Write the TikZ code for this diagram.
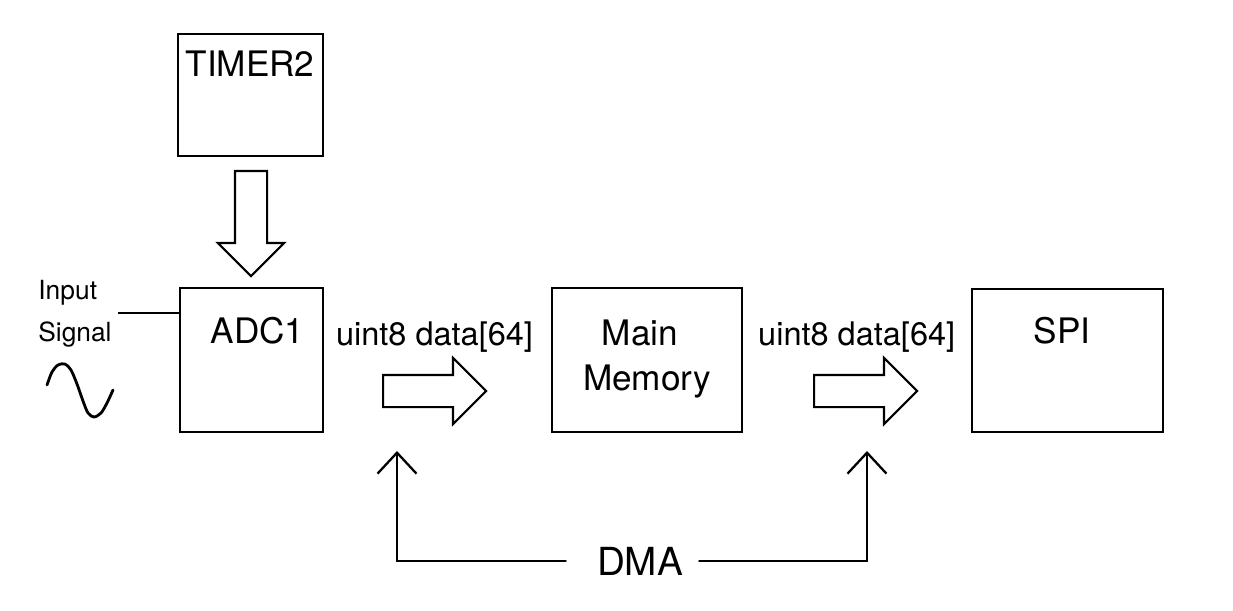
\documentclass[tikz,border=0pt]{standalone}
\usepackage{fontspec}
\setmainfont{TeX Gyre Heros}
\usetikzlibrary{shapes.arrows,arrows.meta,positioning,calc}

\begin{document}
\begin{tikzpicture}[
  x=0.02cm, y=-0.02cm,
  block/.style={draw=black, line width=1.6pt, inner sep=0pt},
  blocktext/.style={font=\fontsize{20}{24}\selectfont, anchor=base, inner sep=0pt},
  datatext/.style={font=\fontsize{18.5}{22}\selectfont, anchor=base, inner sep=0pt},
  sidetext/.style={font=\fontsize{15}{18}\selectfont, anchor=base west, inner sep=0pt},
  bigarrow/.style={single arrow, draw=black, line width=1.2pt, inner xsep=0pt,
    inner ysep=0.3cm, single arrow head extend=0.34cm, single arrow head indent=0pt,
    minimum height=2.06cm, minimum width=1.28cm, anchor=tail},
  dmaline/.style={line width=1.3pt, line cap=round,
    -{Straight Barb[length=0.42cm, width=0.78cm, line width=1.3pt]}}
]
  \useasboundingbox (0,0) rectangle (1233,611);

  % Blocks
  \node[block, minimum width=2.9cm, minimum height=2.44cm] (timer) at (250.5,95) {};
  \node[block, minimum width=2.86cm, minimum height=2.88cm] (adc) at (251.5,360) {};
  \node[block, minimum width=3.8cm, minimum height=2.88cm] (mem) at (647,360) {};
  \node[block, minimum width=3.82cm, minimum height=2.86cm] (spi) at (1067.5,360.5) {};

  % Block names
  \node[blocktext] (timertxt) at (250,76.7) {TIMER2};
  \node[blocktext] (adctxt) at (257.5,343.3) {ADC1};
  \node[blocktext] (memtxta) at (640,345) {Main};
  \node[blocktext] (memtxtb) at (647,390) {Memory};
  \node[blocktext] (spitxt) at (1062,343.3) {SPI};

  % Trigger and data arrows
  \node[bigarrow, rotate=-90, minimum height=2.1cm] (trig) at (251,170) {};
  \node[bigarrow] (adcmem) at (382,391) {};
  \node[bigarrow] (memspi) at (813,391) {};
  \node[datatext] (adcdata) at (434.5,345) {uint8 data[64]};
  \node[datatext] (memdata) at (856.7,345) {uint8 data[64]};

  % Input signal
  \node[sidetext] (inlbl) at (38,299.3) {Input};
  \node[sidetext] (siglbl) at (38,341.7) {Signal};
  \coordinate (sigend) at (118,313);
  \draw[line width=1.4pt] (sigend) -- (sigend -| adc.west);
  \draw[line width=1.6pt, line cap=round] plot[smooth] coordinates {(47,385) (52,372)
    (58,365) (65,364) (71,370) (77,384) (83,401) (88,413) (94,417) (101,413) (107,403) (113,390)};

  % DMA
  \node[font=\fontsize{22}{26}\selectfont, inner sep=0pt] (dma) at (640,561) {DMA};
  \coordinate (dmaL) at (397,451);
  \coordinate (dmaR) at (867,451);
  \draw[dmaline] ([xshift=-0.62cm]dma.west) -| (dmaL);
  \draw[dmaline] ([xshift=0.32cm]dma.east) -| (dmaR);
\end{tikzpicture}
\end{document}
